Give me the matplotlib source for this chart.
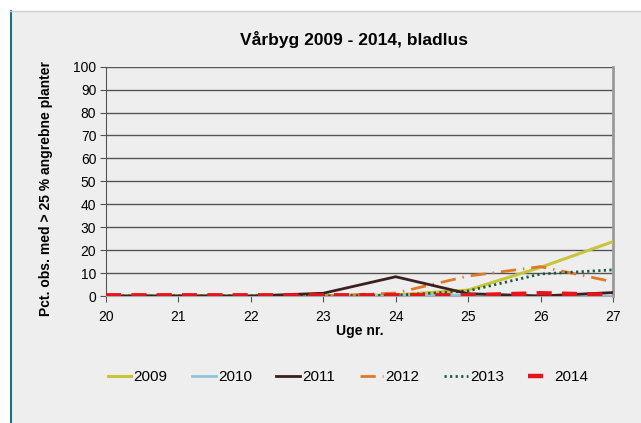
import matplotlib
matplotlib.use("Agg")
import matplotlib.pyplot as plt
from matplotlib.patches import Rectangle
from matplotlib.lines import Line2D

plt.rcParams['font.family'] = ['Liberation Sans', 'DejaVu Sans']

weeks = [20, 21, 22, 23, 24, 25, 26, 27]
y2009 = [0, 0, 0, 0, 0.5, 2.6, 12.5, 23.7]
y2010 = [0, 0, 0, 0, 0, 0.5, 0, 0]
y2011 = [0, 0, 0, 1.2, 8.4, 1.0, 0, 1.5]
y2012 = [0, 0, 0, 0, 1.3, 8.7, 12.8, 6.2]
y2013 = [0, 0, 0, 0, 0.3, 2.2, 9.6, 11.4]
y2014 = [0.3, 0.3, 0.3, 0.3, 0.3, 0.3, 1.2, 0.5]

title = "Vårbyg 2009 - 2014, bladlus"
ylabel = "Pct. obs. med > 25 % angrebne planter"
xlabel = "Uge nr."
yticks = list(range(0, 101, 10))

W, H = 641, 423
fig = plt.figure(figsize=(W / 100, H / 100), dpi=100)
fig.patch.set_facecolor('white')

# chart panel
panel = Rectangle((10 / W, 0), 1 - 10 / W, 1 - 11 / H, transform=fig.transFigure,
                  facecolor='#eeeeee', edgecolor='none', zorder=-10)
fig.patches.append(panel)
fig.add_artist(Line2D([10.5 / W, 10.5 / W], [0, 1 - 11 / H], transform=fig.transFigure,
                      color='#1f6f7f', lw=1.5))
fig.add_artist(Line2D([10 / W, 1], [1 - 11 / H, 1 - 11 / H], transform=fig.transFigure,
                      color='#c8d0d8', lw=1.0))

ax = fig.add_axes([106 / W, 1 - 296 / H, (613 - 106) / W, (296 - 66.7) / H])
ax.set_facecolor('#eeeeee')

ax.plot(weeks, y2009, color='#c8c43c', lw=2.2, label='2009', zorder=3)
ax.plot(weeks, y2010, color='#8cc4e0', lw=2.0, label='2010', zorder=3)
ax.plot(weeks, y2011, color='#3c2020', lw=2.0, label='2011', zorder=4)
ax.plot(weeks, y2012, color='#e07828', lw=2.0, label='2012', zorder=3,
        linestyle=(0, (5.5, 2.5, 0.5, 2.5)))
ax.plot(weeks, y2013, color='#1f5a3c', lw=2.0, label='2013', zorder=3,
        linestyle=(0, (0.8, 1.2)))
ax.plot(weeks, y2014, color='#e8141c', lw=3.2, label='2014', zorder=5,
        linestyle=(0, (3.4, 2.3)))

ax.set_xlim(20, 27)
ax.set_ylim(0, 100)
ax.set_xticks(weeks)
ax.set_yticks(yticks)
ax.grid(axis='y', color='#555555', lw=1.0)
ax.set_axisbelow(True)
ax.spines['top'].set_visible(False)
ax.spines['left'].set_color('#555555')
ax.spines['right'].set_color('#999999')
ax.spines['right'].set_linewidth(2)
ax.spines['bottom'].set_color('#aaaaaa')
ax.tick_params(axis='both', labelsize=10, length=4, color='#555555')
ax.tick_params(axis='x', pad=6)
ax.tick_params(axis='y', pad=3)

fig.text(354 / W, 1 - 40 / H, title, ha='center', va='center', fontsize=12.5, fontweight='bold')
fig.text(46 / W, 1 - 188 / H, ylabel, ha='center', va='center', rotation=90,
         fontsize=10, fontweight='bold')
fig.text(360 / W, 1 - 331 / H, xlabel, ha='center', va='center', fontsize=10, fontweight='bold')

leg = fig.legend(*ax.get_legend_handles_labels(), loc='center', ncol=6,
                 bbox_to_anchor=(348 / W, 1 - 377 / H), frameon=False,
                 fontsize=11, handlelength=1.55, handletextpad=0.15, columnspacing=1.6)

fig.savefig('out.png', dpi=100, facecolor=fig.get_facecolor())
